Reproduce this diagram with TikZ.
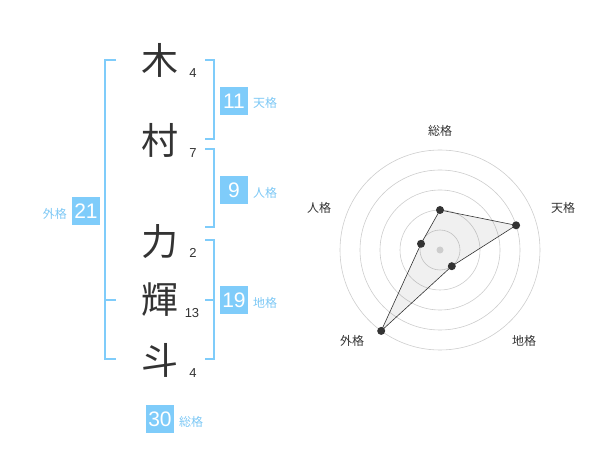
\documentclass[tikz,border=0pt]{standalone}
\usepackage{fontspec}
\setmainfont{Liberation Sans}
\newfontfamily\jp{Noto Sans CJK JP}
\definecolor{bbl}{RGB}{127,204,250}
\definecolor{lbl}{RGB}{125,200,245}
\definecolor{dk}{RGB}{51,51,51}
\definecolor{gridc}{RGB}{205,205,205}
\begin{document}
\begin{tikzpicture}[x=1pt,y=-1pt,
  namech/.style={font=\jp\fontsize{37}{37}\selectfont,text=dk,inner sep=0pt},
  strk/.style={font=\fontsize{13}{13}\selectfont,text=dk,inner sep=0pt},
  numbox/.style={fill=bbl,text=white,minimum width=28pt,minimum height=28pt,inner sep=0pt,font=\fontsize{21}{21}\selectfont},
  kaku/.style={font=\jp\fontsize{12}{12}\selectfont,text=lbl,inner sep=0pt},
  brk/.style={draw=bbl,line width=2pt},
  ring/.style={draw=gridc,line width=0.6pt},
  rlbl/.style={font=\jp\fontsize{12}{12}\selectfont,text=dk,inner sep=0pt},
  dot/.style={circle,fill=dk,minimum size=8pt,inner sep=0pt}]
\useasboundingbox (0,0) rectangle (600,470);
% name characters
\node[namech] (c1) at (160,60) {木};
\node[namech] (c2) at (160,140) {村};
\node[namech] (c3) at (160,242) {力};
\node[namech] (c4) at (160,300) {輝};
\node[namech] (c5) at (160,360) {斗};
% stroke counts
\node[strk] (s1) at (193,73) {4};
\node[strk] (s2) at (193,153) {7};
\node[strk] (s3) at (193,253) {2};
\node[strk] (s4) at (192,313) {13};
\node[strk] (s5) at (193,373) {4};
% brackets
\draw[brk] (116,60) -- (105,60) -- (105,359) -- (116,359);
\draw[brk] (105,300) -- (116,300);
\draw[brk] (205,60) -- (214,60) -- (214,139) -- (205,139);
\draw[brk] (205,149) -- (214,149) -- (214,227) -- (205,227);
\draw[brk] (205,240) -- (214,240) -- (214,359) -- (205,359);
\draw[brk] (205,300) -- (214,300);
% boxes and labels
\node[numbox] (b11) at (234,101) {11};
\node[kaku,anchor=west] (k11) at (253,103) {天格};
\node[numbox] (b9) at (234,190) {9};
\node[kaku,anchor=west] (k9) at (253,193) {人格};
\node[numbox] (b21) at (86,211) {21};
\node[kaku,anchor=east] (k21) at (67,214) {外格};
\node[numbox] (b19) at (234,300) {19};
\node[kaku,anchor=west] (k19) at (253,303) {地格};
\node[numbox] (b30) at (160,419) {30};
\node[kaku,anchor=west] (k30) at (179,422) {総格};
% radar
\coordinate (o) at (440,250);
\foreach \r in {20,40,60,80,100} \draw[ring] (o) circle[radius=\r];
\coordinate (pA) at (440,210);
\coordinate (pB) at (516.1,225.3);
\coordinate (pC) at (451.8,266.2);
\coordinate (pD) at (381.2,330.9);
\coordinate (pE) at (421.0,243.8);
\filldraw[fill=black,fill opacity=0.06,draw=dk,line width=0.6pt] (pA) -- (pB) -- (pC) -- (pD) -- (pE) -- cycle;
\fill[gridc] (o) circle[radius=3.5];
\node[dot] (dA) at (pA) {};
\node[dot] (dB) at (pB) {};
\node[dot] (dC) at (pC) {};
\node[dot] (dD) at (pD) {};
\node[dot] (dE) at (pE) {};
\node[rlbl] (rA) at (440,131) {総格};
\node[rlbl] (rB) at (563,208) {天格};
\node[rlbl] (rC) at (524,341) {地格};
\node[rlbl] (rD) at (352,341) {外格};
\node[rlbl] (rE) at (319,208) {人格};
\end{tikzpicture}
\end{document}
